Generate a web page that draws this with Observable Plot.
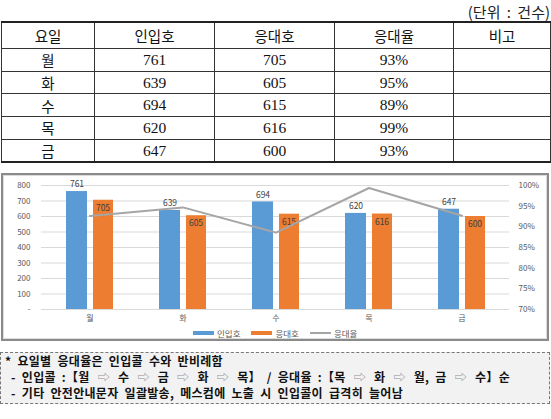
<!DOCTYPE html>
<html>
<head>
<meta charset="utf-8">
<script src="https://cdn.jsdelivr.net/npm/d3@7"></script>
<script src="https://cdn.jsdelivr.net/npm/@observablehq/plot@0.6"></script>
<style>
  body { margin: 0; background: #fff; }
  #page { position: relative; width: 551px; height: 419px; overflow: hidden; }
  #unit { position: absolute; right: 1px; top: 1px; font: 15px "Noto Sans CJK KR", sans-serif; color: #222; word-spacing: 3px; }
  #tbl { position: absolute; left: 1px; top: 21px; width: 549px; border-collapse: collapse; table-layout: fixed;
         font-family: "Liberation Serif", "Noto Sans CJK KR", serif; color: #111; }
  #tbl th, #tbl td { border: 1px solid #333; text-align: center; padding: 0; }
  #tbl th { height: 25px; font: 14.5px "Noto Sans CJK KR", sans-serif; }
  #tbl td { height: 21.7px; font-size: 15.5px; }
  #tbl td:first-child { font-family: "Noto Sans CJK KR", sans-serif; font-size: 14.5px; }
  #tbl tr:first-child th { border-top: 2px solid #222; }
  #tbl tr:last-child td { border-bottom: 2px solid #222; }
  #frame { position: absolute; left: 1px; top: 173px; width: 544px; height: 164px;
           border: 2px solid #8a8a8a; box-shadow: inset 0 0 0 1px #dcdcdc; background: #fff; }
  #frame svg { position: absolute; left: 0; top: 2px; }
  #legend { position: absolute; left: 190px; top: 152px; display: flex; align-items: center;
            font: 8.5px "Noto Sans CJK KR", sans-serif; color: #595959; }
  #legend span.sw { display: inline-block; width: 21px; margin-right: 3px; }
  #legend span.it { margin-right: 11px; }
  #note { position: absolute; left: 0; top: 352px; width: 540px; height: 46px; padding: 0 4px 4px 4px;
          background: #f2f2f2; border: 1px dashed #777; font: 700 12px/16px "Noto Sans CJK KR", sans-serif;
          color: #111; word-spacing: 3px; letter-spacing: 0.3px; }
  #note div { height: 16px; white-space: nowrap; }
  #note .ar { color: #8f8f8f; font-weight: 400; margin: 0 2px; }
</style>
</head>
<body>
<div id="page">
  <div id="unit">(단위 : 건수)</div>
  <table id="tbl"></table>
  <div id="frame"><div id="legend"></div></div>
  <div id="note"></div>
</div>
<script>
const days = ["월", "화", "수", "목", "금"];
const inbound = [761, 639, 694, 620, 647];
const answered = [705, 605, 615, 616, 600];
const rateText = ["93%", "95%", "89%", "99%", "93%"];
const rate = [92.6, 94.7, 88.6, 99.4, 92.7];
const headers = ["요일", "인입호", "응대호", "응대율", "비고"];
const colWidths = [93, 120, 120, 119, 97];
const leftTicks = [0, 100, 200, 300, 400, 500, 600, 700, 800];
const rightTicks = [70, 75, 80, 85, 90, 95, 100];
const seriesNames = ["인입호", "응대호", "응대율"];
const seriesColors = ["#5b9bd5", "#ed7d31", "#a5a5a5"];

// table
const tbl = document.getElementById("tbl");
tbl.innerHTML =
  "<colgroup>" + colWidths.map(w => `<col style="width:${w}px">`).join("") + "</colgroup>" +
  "<tr>" + headers.map(h => `<th>${h}</th>`).join("") + "</tr>" +
  days.map((d, i) => `<tr><td>${d}</td><td>${inbound[i]}</td><td>${answered[i]}</td><td>${rateText[i]}</td><td></td></tr>`).join("");

const rows = days.map((d, i) => ({day: d, inbound: inbound[i], answered: answered[i], rate: rate[i]}));

const common = {
  width: 544,
  height: 152,
  marginLeft: 38,
  marginRight: 38,
  marginTop: 8,
  marginBottom: 20,
  style: {fontFamily: "'Noto Sans CJK KR', sans-serif", fontSize: "8px", color: "#595959", background: "transparent"}
};

const bars = Plot.plot({
  ...common,
  x: {type: "band", domain: days, padding: 0},
  y: {domain: [0, 800]},
  marks: [
    Plot.gridY(leftTicks, {stroke: "#d9d9d9", strokeOpacity: 1}),
    Plot.axisY(leftTicks, {tickSize: 0, tickPadding: 11, tickFormat: d => d === 0 ? "-" : d, label: null}),
    Plot.axisX({tickSize: 0, tickPadding: 6, label: null}),
    Plot.barY(rows, {x: "day", y: "inbound", fill: seriesColors[0], insetLeft: 23, insetRight: 49}),
    Plot.barY(rows, {x: "day", y: "answered", fill: seriesColors[1], insetLeft: 50, insetRight: 23}),
    Plot.text(rows, {x: "day", y: "inbound", text: "inbound", dx: -13, dy: -7, fill: "#404040", fontSize: 8.5}),
    Plot.text(rows, {x: "day", y: "answered", text: "answered", dx: 13, dy: 8, fill: "#404040", fontSize: 8.5})
  ]
});

const line = Plot.plot({
  ...common,
  x: {type: "band", domain: days, padding: 0, axis: null},
  y: {domain: [70, 100]},
  marks: [
    Plot.axisY(rightTicks, {anchor: "right", tickSize: 0, tickPadding: 9, tickFormat: d => d + "%", label: null}),
    Plot.lineY(rows, {x: "day", y: "rate", stroke: seriesColors[2], strokeWidth: 2})
  ]
});

const frame = document.getElementById("frame");
frame.appendChild(bars);
frame.appendChild(line);

// legend
document.getElementById("legend").innerHTML = seriesNames.map((n, i) =>
  `<span class="sw" style="height:${i < 2 ? 4 : 1.2}px;background:${seriesColors[i]}"></span><span class="it">${n}</span>`
).join("");

// note
const ar = '<span class="ar">⇨</span>';
document.getElementById("note").innerHTML =
  "<div>* 요일별 응대율은 인입콜 수와 반비례함</div>" +
  `<div>&nbsp;- 인입콜 :【월 ${ar} 수 ${ar} 금 ${ar} 화 ${ar} 목】 / 응대율 :【목 ${ar} 화 ${ar} 월, 금 ${ar} 수】순</div>` +
  "<div>&nbsp;- 기타 안전안내문자 일괄발송, 메스컴에 노출 시 인입콜이 급격히 늘어남</div>";
</script>
</body>
</html>
